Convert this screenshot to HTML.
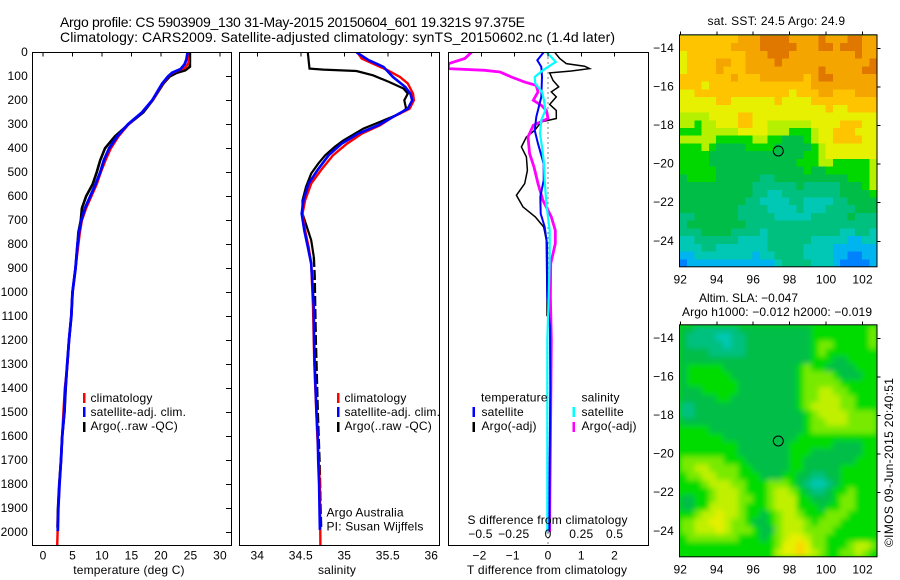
<!DOCTYPE html>
<html>
<head>
<meta charset="utf-8">
<title>Argo profile 5903909</title>
<style>
html,body{margin:0;padding:0;background:#fff;width:900px;height:580px;overflow:hidden}
svg{display:block}
text{font-family:"Liberation Sans",sans-serif;font-size:12px;fill:#000;letter-spacing:0.18px}
</style>
</head>
<body>
<svg id="chart" xmlns="http://www.w3.org/2000/svg" width="900" height="580" viewBox="0 0 900 580">
  <defs>
    <clipPath id="clip-temp"><rect x="32.5" y="52.5" width="199" height="493"/></clipPath>
    <clipPath id="clip-sal"><rect x="239.5" y="52.5" width="200" height="493"/></clipPath>
    <clipPath id="clip-diff"><rect x="448.5" y="52.5" width="200" height="493"/></clipPath>
    <clipPath id="clip-map1"><rect x="680" y="35" width="197" height="232"/></clipPath>
    <clipPath id="clip-map2"><rect x="680" y="325" width="197" height="232"/></clipPath>
    <filter id="soften" x="-5%" y="-5%" width="110%" height="110%"><feGaussianBlur stdDeviation="2.6" edgeMode="duplicate"/></filter>
  </defs>

  <text x="60" y="27" textLength="465" style="font-size:14px;letter-spacing:0">Argo profile: CS 5903909_130 31-May-2015 20150604_601 19.321S 97.375E</text>
  <text x="60" y="42" textLength="555" style="font-size:14px;letter-spacing:0">Climatology: CARS2009. Satellite-adjusted climatology: synTS_20150602.nc (1.4d later)</text>

  <g id="temp-panel"></g>
  <g id="sal-panel"></g>
  <g id="diff-panel"></g>
  <g id="map1-panel"></g>
  <g id="map2-panel"></g>

  <text x="129" y="574" text-anchor="middle">temperature (deg C)</text>
  <text x="337" y="574" text-anchor="middle">salinity</text>
  <text x="467" y="574" textLength="160" style="letter-spacing:0">T difference from climatology</text>
  <text x="467.5" y="524" textLength="160" style="letter-spacing:0">S difference from climatology</text>

  <g>
    <rect x="83" y="393" width="2.5" height="10" fill="#f00"/>
    <rect x="83" y="407" width="2.5" height="10" fill="#00f"/>
    <rect x="83" y="422" width="2.5" height="10" fill="#000"/>
    <text x="90.5" y="402">climatology</text>
    <text x="90.5" y="416">satellite-adj. clim.</text>
    <text x="90.5" y="430">Argo(..raw -QC)</text>
  </g>
  <g>
    <rect x="337" y="393" width="2.5" height="10" fill="#f00"/>
    <rect x="337" y="407" width="2.5" height="10" fill="#00f"/>
    <rect x="337" y="422" width="2.5" height="10" fill="#000"/>
    <text x="344.5" y="402">climatology</text>
    <text x="344.5" y="416">satellite-adj. clim.</text>
    <text x="344.5" y="430">Argo(..raw -QC)</text>
    <text x="326.5" y="516.5">Argo Australia</text>
    <text x="326.5" y="530.5">PI: Susan Wijffels</text>
  </g>
  <g>
    <text x="481" y="401.5">temperature</text>
    <rect x="472.5" y="407" width="2.5" height="10" fill="#00f"/>
    <rect x="472.5" y="422" width="2.5" height="10" fill="#000"/>
    <text x="481.5" y="416">satellite</text>
    <text x="481.5" y="430">Argo(-adj)</text>
    <text x="581.5" y="401.5">salinity</text>
    <rect x="572.5" y="407" width="2.5" height="10" fill="#0ff"/>
    <rect x="572.5" y="422" width="2.5" height="10" fill="#f0f"/>
    <text x="581.5" y="416">satellite</text>
    <text x="581.5" y="430">Argo(-adj)</text>
  </g>

  <text x="707.5" y="25" textLength="137.5" style="letter-spacing:0">sat. SST: 24.5 Argo: 24.9</text>
  <text x="699" y="302" textLength="99" style="letter-spacing:0">Altim. SLA: −0.047</text>
  <text x="682" y="316" textLength="190" style="letter-spacing:0">Argo h1000: −0.012 h2000: −0.019</text>
  <text transform="translate(893,547) rotate(-90)" textLength="169" style="letter-spacing:0">©IMOS 09-Jun-2015 20:40:51</text>
</svg>

<script>
// ---------- profile data ----------
const tempTicks = [0, 5, 10, 15, 20, 25, 30];
const salTicks = [34, 34.5, 35, 35.5, 36];
const salTickLabels = ['34', '34.5', '35', '35.5', '36'];
const tDiffTicks = [-2, -1, 0, 1, 2];
const tDiffTickLabels = ['-2', '-1', '0', '1', '2'];
const sDiffTicks = [-0.5, -0.25, 0, 0.25, 0.5];
const sDiffTickLabels = ['-0.5', '-0.25', '0', '0.25', '0.5'];
const depthTicks = [0, 100, 200, 300, 400, 500, 600, 700, 800, 900, 1000, 1100, 1200, 1300, 1400, 1500, 1600, 1700, 1800, 1900, 2000];

const tempArgoDepth = [0, 60, 75, 85, 100, 130, 200, 250, 300, 350, 400, 450, 500, 550, 600, 650, 700, 750, 800, 900, 1000, 1100, 1200, 1300, 1400, 1500, 1600, 1700, 1800, 1900, 1980];
const tempArgo = [24.9, 24.9, 24.1, 22.7, 21.5, 20.4, 18.6, 17, 14.5, 12.2, 10.5, 9.7, 9.1, 8.4, 7.3, 6.6, 6.4, 6, 5.85, 5.5, 5, 4.8, 4.4, 4.1, 3.85, 3.65, 3.25, 3.05, 2.75, 2.55, 2.45];
const tempClimDepth = [0, 40, 50, 65, 75, 90, 100, 130, 200, 250, 300, 350, 400, 450, 500, 550, 600, 650, 700, 750, 800, 900, 1000, 1100, 1200, 1300, 1400, 1500, 1600, 1700, 1800, 1900, 2054];
const tempClim = [24.5, 24.7, 24.5, 24.1, 23, 21.7, 21.3, 20.3, 18.6, 16.8, 14.5, 12.8, 11.5, 10.6, 9.8, 9.1, 8.2, 7.3, 6.6, 6.25, 6, 5.5, 5, 4.8, 4.4, 4.15, 3.7, 3.45, 3.25, 3.05, 2.8, 2.6, 2.4];
const tempSatDepth = [0, 30, 50, 70, 85, 100, 130, 200, 250, 300, 350, 400, 450, 500, 550, 600, 650, 700, 750, 800, 900, 1000, 1100, 1200, 1300, 1400, 1500, 1600, 1700, 1800, 1900, 1995];
const tempSat = [24.5, 24.3, 24, 23.3, 21.9, 21.2, 20.2, 18.5, 16.8, 14.4, 12.6, 11.2, 10.3, 9.7, 8.9, 8, 7.1, 6.5, 6.1, 5.85, 5.5, 5, 4.8, 4.4, 4.1, 3.8, 3.6, 3.25, 3.05, 2.8, 2.6, 2.5];

const salArgoDepth = [0, 68, 72, 78, 96, 124, 151, 172, 200, 235, 256, 290, 318, 367, 394, 429, 464, 505, 561, 617, 672, 728, 783, 853, 936, 1061, 1200, 1300, 1500, 1700, 1800, 1900, 1990];
const salArgo = [34.58, 34.6, 34.76, 35.14, 35.33, 35.52, 35.68, 35.73, 35.69, 35.71, 35.64, 35.41, 35.22, 34.99, 34.89, 34.78, 34.7, 34.62, 34.56, 34.52, 34.52, 34.57, 34.62, 34.65, 34.66, 34.665, 34.672, 34.68, 34.695, 34.715, 34.722, 34.728, 34.735];
const salClimDepth = [0, 26, 47, 75, 103, 130, 172, 200, 235, 269, 304, 339, 381, 429, 492, 547, 617, 672, 742, 811, 881, 1061, 1300, 1600, 1800, 2054];
const salClim = [35.15, 35.2, 35.33, 35.5, 35.64, 35.73, 35.79, 35.8, 35.75, 35.56, 35.41, 35.2, 35.03, 34.87, 34.73, 34.62, 34.55, 34.52, 34.55, 34.59, 34.62, 34.64, 34.655, 34.69, 34.72, 34.725];
const salSatDepth = [0, 33, 61, 103, 144, 172, 200, 235, 269, 304, 339, 381, 429, 492, 547, 617, 672, 742, 811, 881, 1061, 1200, 1300, 1400, 1500, 1600, 1700, 1800, 1900, 1990];
const salSat = [35.14, 35.28, 35.45, 35.56, 35.7, 35.76, 35.78, 35.73, 35.56, 35.39, 35.16, 34.97, 34.82, 34.69, 34.59, 34.53, 34.51, 34.54, 34.58, 34.62, 34.65, 34.653, 34.66, 34.67, 34.68, 34.695, 34.7, 34.71, 34.715, 34.72];

const dTArgoDepth = [0, 26, 47, 58, 68, 78, 86, 117, 144, 165, 186, 217, 242, 276, 290, 325, 353, 394, 436, 492, 547, 596, 644, 686, 728, 783, 1019, 1100];
const dTArgo = [0.2, 0.35, 0.55, 1.1, 1.25, 0.7, 0.05, 0.15, 0.32, 0.1, 0.25, 0.05, 0.25, 0.25, -0.2, -0.4, -0.65, -0.8, -0.65, -0.62, -0.7, -0.95, -0.75, -0.38, -0.13, -0.05, -0.03, -0.03];
const dTSatDepth = [0, 33, 61, 103, 186, 269, 325, 381, 464, 533, 603, 672, 728, 797, 1019, 1150, 1400, 1700, 1990];
const dTSat = [-0.13, -0.32, -0.2, -0.18, -0.2, -0.35, -0.4, -0.3, -0.13, -0.13, -0.23, -0.22, -0.1, -0.03, -0.02, 0.06, 0.07, 0.05, 0.04];
const dSSatDepth = [0, 40, 75, 103, 130, 165, 200, 242, 283, 339, 394, 464, 533, 630, 742, 853, 1019, 1200, 1600, 2000];
const dSSat = [-0.01, 0.058, -0.038, -0.1, -0.095, -0.045, -0.03, -0.02, -0.05, -0.06, -0.045, -0.03, -0.025, -0.013, 0.013, 0.013, 0.005, -0.005, -0.005, -0.005];
const dSArgoDepth = [0, 26, 47, 68, 75, 82, 103, 124, 138, 165, 200, 221, 242, 276, 304, 353, 422, 478, 547, 617, 686, 742, 797, 881, 1019, 1200, 1500, 1800, 2000];
const dSArgo = [-0.575, -0.625, -0.745, -0.75, -0.475, -0.36, -0.275, -0.175, -0.088, -0.075, -0.11, -0.05, -0.012, 0, -0.11, -0.15, -0.138, -0.105, -0.075, -0.038, 0.025, 0.055, 0.055, 0.02, 0.018, 0.025, 0.02, 0.015, 0.012];

// ---------- map data ----------
const lonTicks = [92, 94, 96, 98, 100, 102];
const latTicks = [-14, -16, -18, -20, -22, -24];
const argoLon = 97.375;
const argoLat = -19.321;
const sstLevels = [
[8,8,8,8,8,8,8,8,9,9,9,10,10,10,10,9,9,9,9,10,9,9,9,10,10,9,9],
[8,8,8,8,8,8,8,9,9,9,9,10,10,10,10,10,9,9,9,10,10,9,10,10,10,9,9],
[7,8,8,8,8,8,8,8,8,9,9,9,10,10,10,9,9,9,9,9,9,9,9,9,10,9,9],
[7,8,8,8,8,9,9,8,8,9,9,9,9,10,9,9,9,9,9,9,9,9,9,9,9,9,10],
[7,8,8,8,8,9,8,8,8,9,9,9,9,9,9,9,9,9,9,10,9,9,9,9,9,10,10],
[8,8,8,8,8,8,8,9,8,8,8,9,9,9,9,9,9,8,9,10,10,9,9,9,9,9,9],
[8,8,8,7,8,8,8,8,8,8,8,8,8,8,8,8,8,8,9,9,9,9,9,9,9,9,9],
[7,7,8,8,8,8,8,8,8,8,8,8,8,8,8,7,8,8,8,9,9,8,8,8,9,9,9],
[7,7,7,7,7,8,8,7,7,7,7,7,7,8,7,7,7,7,8,8,8,8,8,8,8,8,8],
[7,7,7,7,7,7,7,7,7,7,7,7,7,7,7,7,7,7,7,7,8,7,7,8,8,8,8],
[6,6,6,6,7,7,7,7,8,8,7,7,7,7,7,7,7,7,7,7,7,7,7,7,7,7,7],
[6,6,5,6,6,7,7,7,8,8,7,7,6,6,6,6,6,6,7,7,7,7,8,8,8,7,7],
[5,5,5,6,6,6,6,6,7,7,7,7,6,6,6,5,5,5,6,7,7,8,8,8,7,7,7],
[6,6,6,6,6,5,5,5,5,5,6,6,5,5,4,4,4,5,6,7,7,8,8,8,8,7,7],
[5,5,5,6,5,4,4,4,4,5,5,5,5,4,4,4,4,4,5,6,7,7,7,7,7,7,7],
[5,5,5,5,4,4,4,4,4,4,4,4,4,4,4,4,4,5,5,6,7,7,7,7,7,7,7],
[5,5,5,5,4,4,4,4,4,4,4,4,4,4,4,4,5,5,5,6,6,5,5,5,5,5,6],
[5,5,5,5,5,4,4,4,4,4,4,4,4,4,4,4,4,5,4,4,5,5,5,5,5,5,6],
[4,5,5,5,5,4,4,4,4,4,4,3,3,4,4,4,4,4,4,4,4,4,4,5,5,5,6],
[4,4,4,4,4,4,4,4,4,4,3,3,3,3,3,3,4,3,3,3,3,3,4,4,4,5,6],
[4,4,4,4,4,4,4,4,4,4,3,3,2,2,3,3,3,3,3,3,3,3,4,4,4,4,5],
[4,4,4,4,4,4,4,4,4,3,3,2,2,2,2,3,3,2,2,2,2,3,3,4,4,4,4],
[4,4,4,4,4,4,4,4,3,3,3,3,2,2,2,2,3,2,2,2,3,3,3,3,4,4,4],
[3,3,4,4,4,4,4,4,3,3,3,3,3,2,2,2,2,2,3,3,3,3,3,4,3,3,3],
[3,4,4,4,4,4,4,4,4,3,3,3,3,3,3,3,3,3,3,3,3,3,3,3,3,3,3],
[3,3,3,4,4,4,4,3,3,3,3,2,3,3,3,3,3,3,3,3,3,3,2,2,3,3,2],
[2,2,3,3,3,3,3,3,2,2,2,2,3,3,3,3,3,3,2,2,2,2,2,1,1,2,2],
[2,2,2,3,3,2,2,2,2,2,2,2,3,3,3,3,3,2,2,2,2,1,1,1,1,1,1],
[1,1,2,2,2,2,2,2,2,2,1,2,2,3,3,3,3,2,2,2,2,1,1,0,0,1,1],
[0,1,1,1,1,1,1,1,1,1,1,1,1,2,3,3,3,3,2,2,2,1,0,0,0,0,1]
];
const slaLevels = [
[4,4,3,3,3,3,3,3,4,4,4,4,4,4,4,4,4,4,5,5,5,5,5,5,5,5,6],
[4,3,3,3,3,2,2,3,3,4,4,4,4,4,4,4,4,4,5,5,5,5,5,5,5,5,6],
[4,3,3,3,3,3,2,3,3,4,4,4,4,4,4,4,4,4,5,6,6,5,5,5,5,5,6],
[4,4,4,4,3,3,3,3,3,4,4,4,4,4,4,4,4,4,5,6,5,5,5,5,5,5,5],
[4,4,4,4,4,4,4,4,4,4,4,4,4,4,4,4,4,4,5,5,5,4,4,5,5,5,5],
[4,5,5,5,5,5,4,4,4,4,4,4,4,4,4,4,5,6,5,5,4,4,4,4,5,5,5],
[4,5,5,5,5,5,5,4,4,4,4,4,4,4,4,4,5,6,6,6,6,5,4,4,4,5,5],
[4,5,5,5,5,5,5,5,4,4,4,4,4,4,4,4,5,6,6,6,6,6,5,5,5,5,5],
[4,4,4,5,5,5,5,5,4,4,4,4,4,4,4,4,5,6,6,7,7,6,6,5,5,5,5],
[4,4,4,4,4,5,5,4,4,4,4,4,4,4,4,4,5,6,6,7,7,7,6,6,5,5,5],
[3,3,4,4,4,4,4,4,4,4,4,4,4,4,4,4,5,6,7,7,7,7,6,6,5,5,5],
[3,3,4,4,4,4,4,4,4,4,4,4,4,4,4,4,4,5,6,7,7,7,7,6,6,6,6],
[4,4,4,4,4,4,4,4,4,4,4,4,4,4,4,4,4,5,6,6,7,7,7,6,6,6,6],
[5,5,5,5,4,4,4,4,4,4,4,4,4,4,4,4,4,5,6,6,6,6,6,6,6,6,6],
[5,5,5,5,5,5,4,4,4,4,4,4,4,4,4,4,5,5,5,5,5,5,5,5,5,5,5],
[5,5,5,5,5,5,5,5,4,4,4,4,4,4,4,5,5,5,5,5,5,4,4,4,4,5,5],
[5,5,5,5,5,5,5,5,4,4,4,4,4,4,4,5,5,5,4,4,4,4,4,4,4,5,5],
[6,6,6,6,6,6,5,5,5,4,4,4,4,4,4,5,5,4,4,4,4,4,4,4,5,5,5],
[6,6,7,7,6,6,6,6,5,5,4,4,4,4,4,5,5,4,4,4,4,4,5,5,5,5,5],
[5,6,6,7,7,6,6,6,5,5,5,4,4,4,5,5,4,4,3,3,4,4,5,5,5,5,5],
[5,5,5,6,7,7,7,6,6,5,5,5,6,6,6,5,4,3,2,2,3,4,5,5,5,5,5],
[5,5,5,5,6,7,7,7,6,5,5,5,6,7,7,6,5,4,3,3,4,5,5,6,5,5,5],
[4,4,5,5,6,7,7,7,6,6,5,5,6,7,7,7,5,5,4,4,4,5,6,6,5,5,5],
[4,4,5,5,7,7,7,7,6,5,5,5,6,7,7,7,5,5,5,4,5,5,6,6,5,5,5],
[5,5,6,7,7,8,7,7,6,5,5,4,5,6,7,7,6,5,5,5,6,6,6,5,5,5,5],
[6,6,7,7,8,8,7,6,6,5,4,4,5,6,7,7,7,6,5,6,6,6,5,5,5,5,5],
[6,6,7,7,7,8,7,6,6,6,5,4,4,6,7,7,7,6,6,6,6,5,5,5,5,5,5],
[5,6,6,6,6,6,6,6,5,5,5,4,5,6,7,8,8,7,6,6,5,5,5,5,5,5,5],
[5,5,5,5,5,5,5,5,5,5,5,5,5,6,8,8,9,8,6,6,5,5,5,6,7,7,6],
[5,5,5,5,5,5,5,5,5,5,5,5,5,7,8,8,9,8,7,6,5,5,6,6,7,6,5]
];
</script>
<script>
// ---------- scales and drawing ----------
const NS = 'http://www.w3.org/2000/svg';
const sstPalette = ['#0082ff','#00b4f0','#00c8b4','#00c080','#00bd48','#00d800','#b4f000','#e6f000','#ffc400','#f5a500','#e07800'];
const slaPalette = ['#0082ff','#00b4f0','#00c8b4','#00c080','#00be46','#00dc00','#78ea00','#c0f000','#e6f000','#ffd200','#f5a500'];

function make(tag, parent) {
  const el = document.createElementNS(NS, tag);
  parent.appendChild(el);
  return el;
}
function minus(str) { return String(str).replace('-', '\u2212'); }
function depthY(d) { return 52.3 + d * 0.24; }
function tempX(t) { return 43 + t * 5.9; }
function salX(s) { return 257.3 + (s - 34) * 87; }
function dTX(v) { return 548 + v * 33.3; }
function dSX(v) { return 548 + v * 133.2; }

function frame(parent, x, y, w, h) {
  const r = make('rect', parent);
  
  
  r.setAttribute('x', x);
  r.setAttribute('y', y);
  r.setAttribute('width', w);
  r.setAttribute('height', h);
  r.setAttribute('fill', 'none');
  r.setAttribute('stroke', '#000');
}
function tick(parent, x1, y1, x2, y2) {
  const l = make('line', parent);
  
  
  l.setAttribute('x1', x1);
  l.setAttribute('y1', y1);
  l.setAttribute('x2', x2);
  l.setAttribute('y2', y2);
  l.setAttribute('stroke', '#000');
  l.setAttribute('shape-rendering', 'crispEdges');
}
function label(parent, x, y, anchor, str) {
  const t = make('text', parent);
  
  
  t.setAttribute('x', x);
  t.setAttribute('y', y);
  t.setAttribute('text-anchor', anchor);
  t.textContent = minus(str);
}
function curve(parent, name, xs, depths, xf, color, width, dash) {
  const p = make('polyline', parent);
  
  
  p.setAttribute('points', xs.map(function (v, i) { return xf(v).toFixed(1) + ',' + depthY(depths[i]).toFixed(1); }).join(' '));
  p.setAttribute('fill', 'none');
  p.setAttribute('stroke', color);
  p.setAttribute('stroke-width', width);
  if (dash) p.setAttribute('stroke-dasharray', dash);
}
function clipped(parent, id) {
  const g = make('g', parent);
  
  
  g.setAttribute('clip-path', 'url(#' + id + ')');
  return g;
}

// temperature panel
const tp = document.getElementById('temp-panel');
const tg = clipped(tp, 'clip-temp');
curve(tg, 'temperature-argo-line', tempArgo, tempArgoDepth, tempX, '#000', 2.6);
curve(tg, 'temperature-climatology-line', tempClim, tempClimDepth, tempX, '#f00', 2.4);
curve(tg, 'temperature-satellite-line', tempSat, tempSatDepth, tempX, '#00f', 2.8);
frame(tp, 32.5, 52.5, 199, 493);
tempTicks.forEach(function (t) {
  tick(tp, tempX(t), 52.5, tempX(t), 56.5);
  label(tp, tempX(t), 559.5, 'middle', String(t));
});
depthTicks.forEach(function (d) {
  tick(tp, 231.5, depthY(d), 226, depthY(d));
  label(tp, 28, depthY(d) + 3.5, 'end', String(d));
});

// salinity panel
const sp = document.getElementById('sal-panel');
const sg = clipped(sp, 'clip-sal');
const salShallowCount = salArgoDepth.filter(function (d) { return d <= 853; }).length;
curve(sg, 'salinity-argo-line', salArgo.slice(0, salShallowCount), salArgoDepth.slice(0, salShallowCount), salX, '#000', 2.2);
curve(sg, 'salinity-argo-deep-line', salArgo.slice(salShallowCount - 1), salArgoDepth.slice(salShallowCount - 1), salX, '#000', 2.4, '10 3');
curve(sg, 'salinity-climatology-line', salClim, salClimDepth, salX, '#f00', 2.4);
curve(sg, 'salinity-satellite-line', salSat, salSatDepth, salX, '#00f', 2.6);
frame(sp, 239.5, 52.5, 200, 493);
salTicks.forEach(function (s, i) {
  tick(sp, salX(s), 52.5, salX(s), 56.5);
  label(sp, salX(s), 559.5, 'middle', salTickLabels[i]);
});

// difference panel
const dp = document.getElementById('diff-panel');
const dg = clipped(dp, 'clip-diff');
const zero = make('line', dg);


zero.setAttribute('x1', dTX(0));
zero.setAttribute('x2', dTX(0));
zero.setAttribute('y1', 52.5);
zero.setAttribute('y2', 545);
zero.setAttribute('stroke', '#000');
zero.setAttribute('stroke-dasharray', '1 4');
curve(dg, 't-difference-argo-line', dTArgo, dTArgoDepth, dTX, '#000', 1.5);
curve(dg, 's-difference-argo-line', dSArgo, dSArgoDepth, dSX, '#f0f', 2.8);
curve(dg, 't-difference-satellite-line', dTSat, dTSatDepth, dTX, '#00f', 2);
curve(dg, 's-difference-satellite-line', dSSat, dSSatDepth, dSX, '#0ff', 2.2);
frame(dp, 448.5, 52.5, 200, 493);
tDiffTicks.forEach(function (v, i) {
  tick(dp, dTX(v), 52.5, dTX(v), 56.5);
  label(dp, dTX(v) - (v < 0 ? 2 : 0), 559.5, 'middle', tDiffTickLabels[i]);
});
sDiffTicks.forEach(function (v, i) {
  label(dp, dSX(v) - (v < 0 ? 1 : 0), 538, 'middle', sDiffTickLabels[i]);
});

// maps
function drawMap(panelId, clipId, levels, palette, top, mapName, soft) {
  const panel = document.getElementById(panelId);
  const lonX = function (lon) { return 680.3 + (lon - 92) * 18.23; };
  const latY = function (lat) { return top + 13 + (-14 - lat) * 19.3; };
  const outer = clipped(panel, clipId);
  const base = make('rect', outer);
  
  
  base.setAttribute('x', 679);
  base.setAttribute('y', top - 1);
  base.setAttribute('width', 199);
  base.setAttribute('height', 234);
  base.setAttribute('fill', palette[5]);
  const cells = make('g', outer);
  
  
  if (soft) cells.setAttribute('filter', 'url(#soften)');
  levels.forEach(function (row, r) {
    row.forEach(function (lev, c) {
      const cell = make('rect', cells);
      
      
      const lon0 = 91.97 + c * 0.4;
      const lat0 = -13.33 - r * 0.4;
      cell.setAttribute('x', lonX(lon0).toFixed(2));
      cell.setAttribute('y', latY(lat0).toFixed(2));
      cell.setAttribute('width', (0.4 * 18.23 + 0.6).toFixed(2));
      cell.setAttribute('height', (0.4 * 19.3 + 0.6).toFixed(2));
      cell.setAttribute('fill', palette[lev]);
      cell.setAttribute('shape-rendering', 'crispEdges');
    });
  });
  const frameEl = make('rect', panel);
  
  
  frameEl.setAttribute('x', 679.5);
  frameEl.setAttribute('y', top - 0.5);
  frameEl.setAttribute('width', 197.5);
  frameEl.setAttribute('height', 232);
  frameEl.setAttribute('fill', 'none');
  frameEl.setAttribute('stroke', '#000');
  lonTicks.forEach(function (lon) {
    tick(panel, lonX(lon), top - 0.5, lonX(lon), top - 4);
    label(panel, lonX(lon), top + 248, 'middle', String(lon));
  });
  latTicks.forEach(function (lat) {
    tick(panel, 877, latY(lat), 880.5, latY(lat));
    label(panel, 674, latY(lat) + 3.5, 'end', String(lat));
  });
  const marker = make('circle', panel);
  
  
  marker.setAttribute('cx', lonX(argoLon));
  marker.setAttribute('cy', latY(argoLat));
  marker.setAttribute('r', 5);
  marker.setAttribute('fill', 'none');
  marker.setAttribute('stroke', '#000');
}
drawMap('map1-panel', 'clip-map1', sstLevels, sstPalette, 35.3, 'sst-map', false);
drawMap('map2-panel', 'clip-map2', slaLevels, slaPalette, 325.3, 'sla-map', true);
</script>
</body>
</html>
